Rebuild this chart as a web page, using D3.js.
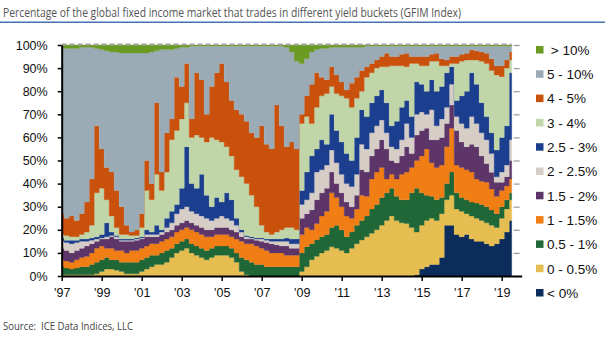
<!DOCTYPE html>
<html>
<head>
<meta charset="utf-8">
<script src="https://cdn.jsdelivr.net/npm/d3@7/dist/d3.min.js"></script>
<style>
	body { margin: 0; background: #fff; }
	svg { display: block; }
</style>
</head>
<body>
<div id="chart"></div>
<script>
// ---- data: share (%) of GFIM index in each yield bucket, quarterly from Q1 1997 ----
var startYear = 1997;
var stepYears = 0.25;

var bucketLabels = ['< 0%', '0 - 0.5%', '0.5 - 1%', '1 - 1.5%', '1.5 - 2%', '2 - 2.5%',
	'2.5 - 3%', '3 - 4%', '4 - 5%', '5 - 10%', '\u00a0> 10%'];

var below0 = [
	0,0,0,0,0,0,0,0,0,0,
	0,0,0,0,0,0,0,0,0,0,
	0,0,0,0,0,0,0,0,0,0,
	0,0,0,0,0,0,0,0,0,0,
	0,0,0,0,0,0,0,0,0,0,
	0,0,0,0,0,0,0,0,0,0,
	0,0,0,0,0,0,0,0,0,0,
	0,.5,3,4,5,5,8,22,22,18,
	17,18,16,15,15,14,13,14,16,19,
	24];
var y0to05 = [
	.5,.5,.5,.5,.5,.5,.5,1,2,3,
	3,2.5,2,1,1,1,2,3,4,5,
	5,6,8,10,11,12,10,9,8,7,
	8,9,9,9,8,6,2,.5,0,0,
	0,0,0,0,0,0,0,0,2,4,
	7,8.5,10,11,12.7,12,11,10,12,14,
	15.6,17,18.5,20,22,24,26,24,23,22.7,
	21,18.5,19,20,20,19,19,11,13,11,
	11,9,10,10,9,9,9,7,9,10,
	9];
var y05to1 = [
	3.5,3,2.5,3,3.5,3.5,4.5,5,5,5,
	4,4.5,4,5,5,5,5,5,5,4,
	5,5,4,4,4,4,4,4,4,4,
	4,4,4,4,4,4,6,6.5,6,5,
	5,4,4,4,4,4,4,4,8,8.7,
	7,7.1,7,7,8.3,10,9,7,7,8,
	8.4,9,10.5,11,12,12,12,10.5,10,10.3,
	15,19,14,11,9.5,9,7,7,10,7,
	6,6,6,6.6,7,7,6.6,6,5,4,
	3];
var y1to15 = [
	3,3,3,3.5,4,4.5,5,6,6,4,
	5,4,5,4,5,5,5,5,5,5,
	5,5,5,5,5,5,6,6,6,6,
	5,5,5,5,5,6,7,7,8,8,
	7,7,6,6,6,5,5,5,8,8.3,
	6,7.1,9,10,15,12,10,9,6,7,
	11,8.5,13,14,13,6,6,7.5,11,12,
	11,12,16,20,14.5,14,14,16,19,12,
	13,13,13,10.4,10,10.6,9.1,7.5,7,6,
	6];
var y15to2 = [
	5,4.5,4,4,4,4.5,4,3,3,4,
	5,5,4,5,4,4.5,4,4,3,3,
	3,3,3,3,3,3,3,3,3,3,
	3,3,3,3,3,3,2,2,2,2.5,
	3,3.5,4,3.5,3,4,3,3,7,6,
	8.6,10.3,10,10,9,6,6,6,5,6,
	11,10.5,10,10,12,13,6,7,8,11,
	6,11,11,9,10,12,12,10,10,15,
	11,10,12,14,11,8.1,7.2,6.1,3.6,4,
	8];
var y2to25 = [
	3,3.5,4,3.5,3,2,1.5,1,.5,1,
	.5,1,.5,.5,.5,.5,.5,1,1,1,
	1,2,3,5,6,6,5,5,5,5,
	4,4,5,4,4,3,2,1,.5,.5,
	1,1,1,1.5,2,2,2,2,6,6,
	7.4,12,10,10,9.5,9,8,8,8.7,9,
	11,10,10,10,8.5,7,6,6,7,10,
	7,9,8,6,13,6,8,7,9,6,
	8,8,12,10,10,10.3,8.1,2.4,4.4,5,
	9];
var y25to3 = [
	1.5,1,1.5,1,1,1,1,1,1.5,6,
	1.5,.5,.5,.5,.5,.5,.5,2,1,4,
	1,4,5,4,9,26,12,11,18,10,
	6,9,6,11,9,3,1,.5,.5,.5,
	.5,.5,1,1,1,1.5,2,2,6,12,
	16,10,13,9,15.5,14,14,13,11.3,16,
	15,14,13,13,13,13,9,12,14,10,
	9,14,12,10,13,15,14,15,7.6,7,
	12,16,19,17,13,10,9,11.5,15,17,
	29];
var y3to4 = [
	1.5,2,1.5,1.5,2,3,5.5,19,20,10,
	7,3.5,2,2,1.5,1,4,17,14,22,
	17,20,31,32,30,19,20,23,16,23,
	30,25,26,20,19,21,23,22.5,18,13.5,
	5.5,3,2,3,4,4.5,5,4,29,24,
	14,18,19,22,12,16,20,24,23,17,
	8,17,13,12,10.1,15.6,26,24,18,14.6,
	23,8,8,11,8,13,9,3,1.4,16,
	15,13.5,5.5,10.5,18,23,27,32.5,26.3,25,
	5.5];
var y4to5 = [
	9,7.5,9,7,9,13,20,29,17,14,
	19,16,12,4,1.5,2.5,6,13,7,31,
	8,17,9,23,14,17,8,27,25,12,
	22,29,34,28,24,26,27,27,27,30,
	43,38,37,55,45,35,37,35,4,9,
	17,15,8,6,8.6,8,6,3.5,10.4,9,
	9,4.6,4,3.5,4.4,5.8,4,4,5,5.8,
	3,3,4,4,3,3.4,3,2.5,3,3,
	3,2.9,4.3,4,4,4.4,5,4,4.7,3.5,
	3.5];
var y5to10 = [
	71.5,73.5,72.5,74.5,72,67,57,33.5,43,50.5,
	52,60,66.5,74.5,77.5,76.5,69.5,46.5,57,22.5,
	53,36,30,12.5,17,7,31.5,11.5,14.5,29.5,
	17.5,11.5,7.5,15.5,23.5,27.5,29.5,32.5,37.5,39.5,
	34.5,42.5,44.5,25.5,34.5,43,39,38,22,16,
	14,10,12.5,13.5,8.4,12,15,18.5,15.6,13,
	10,8.9,7.5,6,4.5,3.1,4.5,4.5,3.5,3.1,
	4.5,4.5,4.5,4.5,3.5,3.1,5.5,6,4.5,4.5,
	3.5,3.1,1.7,2,2.5,3.1,5.5,8.5,8.5,6,
	2.5];
var above10 = [
	1.5,1.5,1.5,1.5,1,1,1,1.5,2,2.5,
	3,3,3.5,3.5,3.5,3.5,3.5,3.5,3,2.5,
	2,2,2,1.5,1,1,.5,.5,.5,.5,
	.5,.5,.5,.5,.5,.5,.5,.5,.5,.5,
	.5,.5,.5,.5,.5,1,3,7,8,6,
	3,2,1.5,1.5,1,1,1,1,1,1,
	1,.5,.5,.5,.5,.5,.5,.5,.5,.5,
	.5,.5,.5,.5,.5,.5,.5,.5,.5,.5,
	.5,.5,.5,.5,.5,.5,.5,.5,.5,.5,
	.5];

var seriesValues = [below0, y0to05, y05to1, y1to15, y15to2, y2to25,
	y25to3, y3to4, y4to5, y5to10, above10];

var bucketColors = ['#0c2c5c', '#e6bd50', '#1f6737', '#f17e15', '#5d3569', '#d5cdc6',
	'#1c3e8e', '#c0d5a8', '#c9510c', '#9aabb5', '#6c9b24'];

var yTicks = [0, 10, 20, 30, 40, 50, 60, 70, 80, 90, 100];
var xTickYears = [1997, 1999, 2001, 2003, 2005, 2007, 2009, 2011, 2013, 2015, 2017, 2019];
var xTickLabels = ["'97", "'99", "'01", "'03", "'05", "'07", "'09", "'11", "'13", "'15", "'17", "'19"];

var titleText = 'Percentage of the global fixed income market that trades in different yield buckets (GFIM Index)';
var sourceText = 'Source:\u00a0\u00a0ICE Data Indices, LLC';

// ---- build table for d3.stack ----
var keys = bucketLabels.map(function (d, i) { return 'k' + i; });
var table = below0.map(function (v, i) {
	var row = { year: startYear + i * stepYears };
	keys.forEach(function (k, j) { row[k] = seriesValues[j][i]; });
	return row;
});
var lastYear = table[table.length - 1].year;

// ---- layout ----
var W = 605, H = 341;
var plot = { left: 61.7, top: 45, bottom: 276 };
var pxPerYear = 20;

var svg = d3.select('#chart').append('svg')
	.attr('width', W)
	.attr('height', H);

var titleFont = "'Open Sans', 'Noto Sans', sans-serif";
var axisFont = "'Liberation Sans', Arial, sans-serif";

// title + blue rule
svg.append('text')
	.attr('x', 3)
	.attr('y', 16.5)
	.attr('font-family', titleFont)
	.attr('font-size', '13.5px')
	.attr('fill', '#555')
	.attr('textLength', 458)
	.attr('lengthAdjust', 'spacingAndGlyphs')
	.text(titleText);

svg.append('line')
	.attr('x1', 0).attr('x2', W)
	.attr('y1', 22.2).attr('y2', 22.2)
	.attr('stroke', '#4673ad')
	.attr('stroke-width', 1.5);

// scales
var xScale = d3.scaleLinear()
	.domain([startYear, 2020])
	.range([plot.left, plot.left + (2020 - startYear) * pxPerYear]);

var yScale = d3.scaleLinear()
	.domain([0, 100])
	.range([plot.bottom, plot.top]);

// stacked areas
var stack = d3.stack().keys(keys);
var layers = stack(table);

var area = d3.area()
	.curve(d3.curveStep)
	.x(function (d) { return xScale(d.data.year); })
	.y0(function (d) { return yScale(d[0]); })
	.y1(function (d) { return yScale(d[1]); });

svg.append('g')
	.attr('class', 'layers')
	.selectAll('path')
	.data(layers)
	.enter()
	.append('path')
	.attr('d', area)
	.attr('fill', function (d, i) { return bucketColors[i]; })
	.attr('stroke', function (d, i) { return bucketColors[i]; })
	.attr('stroke-width', 0.3);

// dashed 100% line
svg.append('line')
	.attr('x1', xScale(startYear)).attr('x2', xScale(lastYear))
	.attr('y1', yScale(100) - 0.5).attr('y2', yScale(100) - 0.5)
	.attr('stroke', '#a3a3a3')
	.attr('stroke-width', 2)
	.attr('stroke-dasharray', '5,3');

// right side tick marks
var yAxisRight = d3.axisRight(yScale).tickValues(yTicks).tickSize(6).tickFormat('');
svg.append('g')
	.attr('class', 'y axis right')
	.attr('transform', 'translate(' + (xScale(lastYear) + 2) + ',0)')
	.call(yAxisRight)
	.call(function (g) { g.select('.domain').remove(); })
	.selectAll('line')
	.attr('stroke', '#9a9a9a')
	.attr('stroke-width', 1.2);

// Y axis
var yAxisCall = d3.axisLeft(yScale)
	.tickValues(yTicks)
	.tickSize(4)
	.tickSizeOuter(0)
	.tickPadding(10)
	.tickFormat(function (d) { return d + '%'; });

var yAxisG = svg.append('g')
	.attr('class', 'y axis')
	.attr('transform', 'translate(' + plot.left + ',0)')
	.call(yAxisCall);
yAxisG.select('.domain').attr('stroke', '#000').attr('stroke-width', 2);
yAxisG.selectAll('line').attr('stroke', '#000').attr('stroke-width', 1.5);
yAxisG.selectAll('text')
	.attr('font-family', axisFont)
	.attr('font-size', '12.5px')
	.attr('fill', '#111');

// X axis
var xAxisCall = d3.axisBottom(xScale)
	.tickValues(xTickYears)
	.tickSize(5)
	.tickSizeOuter(0)
	.tickPadding(7)
	.tickFormat(function (d, i) { return xTickLabels[i]; });

var xAxisG = svg.append('g')
	.attr('class', 'x axis')
	.attr('transform', 'translate(0,' + plot.bottom + ')')
	.call(xAxisCall);
xAxisG.select('.domain').attr('stroke', '#000').attr('stroke-width', 2);
xAxisG.selectAll('line').attr('stroke', '#000').attr('stroke-width', 1.5);
xAxisG.selectAll('text')
	.attr('font-family', axisFont)
	.attr('font-size', '12.5px')
	.attr('fill', '#111');

// legend, top bucket first
var legend = svg.append('g')
	.attr('class', 'legend')
	.attr('transform', 'translate(536,46)');

var legendRows = legend.selectAll('g')
	.data(bucketLabels.slice().reverse())
	.enter()
	.append('g')
	.attr('transform', function (d, i) { return 'translate(0,' + (i * 24.3) + ')'; });

legendRows.append('rect')
	.attr('width', 7.5)
	.attr('height', 7.5)
	.attr('fill', function (d, i) { return bucketColors[bucketColors.length - 1 - i]; });

legendRows.append('text')
	.attr('x', 11)
	.attr('y', 4)
	.attr('dy', '0.36em')
	.attr('font-family', axisFont)
	.attr('font-size', '13.5px')
	.attr('fill', '#111')
	.text(function (d) { return d; });

// source line
svg.append('text')
	.attr('x', 3)
	.attr('y', 330)
	.attr('font-family', titleFont)
	.attr('font-size', '11.5px')
	.attr('fill', '#444')
	.attr('textLength', 130)
	.attr('lengthAdjust', 'spacingAndGlyphs')
	.text(sourceText);
</script>
</body>
</html>
